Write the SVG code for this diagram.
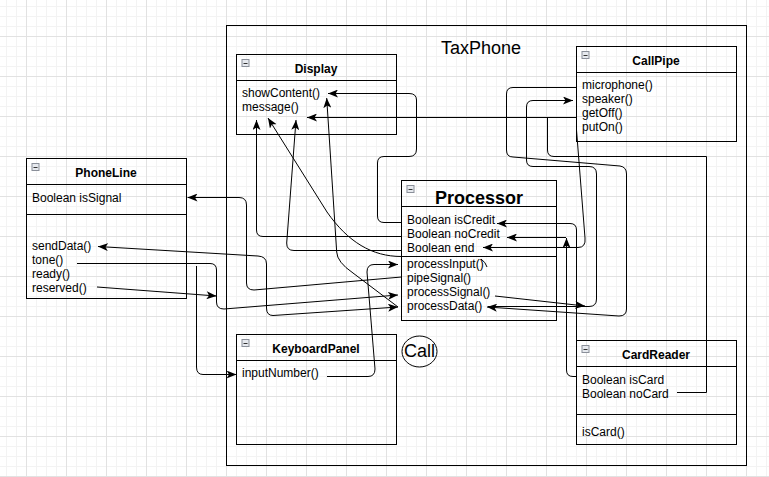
<svg xmlns="http://www.w3.org/2000/svg" width="769" height="477" viewBox="0 0 769 477">
<defs>
<pattern id="grid" width="40" height="40" patternUnits="userSpaceOnUse" x="26" y="36">
<path d="M10.5,0V40M20.5,0V40M30.5,0V40M0,10.5H40M0,20.5H40M0,30.5H40" stroke="#f3f3f3" stroke-width="1" fill="none"/>
<path d="M0.5,0V40M0,0.5H40" stroke="#e2e2e2" stroke-width="1" fill="none"/>
</pattern>
<marker id="a" viewBox="0 0 10 8" refX="10" refY="4" markerWidth="10" markerHeight="8" markerUnits="userSpaceOnUse" orient="auto-start-reverse">
<path d="M0,0 L10,4 L0,8 L2.5,4 Z" fill="#000"/>
</marker>
<g id="minus">
<rect x="0.5" y="0.5" width="7" height="7" fill="#e6e9ee" stroke="#8a8f99" stroke-width="1"/>
<path d="M2,4.5H6" stroke="#333" stroke-width="1"/>
</g>
</defs>
<style>
.box{fill:none;stroke:#000;stroke-width:1}
.t{font-family:"Liberation Sans",Arial,sans-serif;font-size:12px;fill:#000}
.h{font-weight:bold;text-anchor:middle}
.e{fill:none;stroke:#000;stroke-width:1}
.ar{marker-end:url(#a)}
</style>
<rect width="769" height="477" fill="#fff"/>
<rect width="769" height="477" fill="url(#grid)"/>

<g id="TaxPhone">
<rect class="box" x="226.5" y="25.5" width="520" height="440"/>
<text class="t" x="481" y="53.5" text-anchor="middle" style="font-size:18px">TaxPhone</text>
</g>

<g id="Display">
<rect class="box" x="236.5" y="54.5" width="160" height="80"/>
<path class="box" d="M236.5,80.5H396.5"/>
<use href="#minus" x="241.5" y="59"/>
<text class="t h" x="316" y="73">Display</text>
<text class="t" x="242" y="97">showContent()</text>
<text class="t" x="242" y="111">message()</text>
</g>

<g id="CallPipe">
<rect class="box" x="576.5" y="46.5" width="160" height="95"/>
<path class="box" d="M576.5,72.5H736.5"/>
<use href="#minus" x="581.5" y="51"/>
<text class="t h" x="656" y="65">CallPipe</text>
<text class="t" x="582" y="89">microphone()</text>
<text class="t" x="582" y="103">speaker()</text>
<text class="t" x="582" y="117">getOff()</text>
<text class="t" x="582" y="131">putOn()</text>
</g>

<g id="PhoneLine">
<rect class="box" x="26.5" y="158.5" width="160" height="140"/>
<path class="box" d="M26.5,184.5H186.5M26.5,214.5H186.5"/>
<use href="#minus" x="31.5" y="163"/>
<text class="t h" x="106" y="177">PhoneLine</text>
<text class="t" x="32" y="202">Boolean isSignal</text>
<text class="t" x="32" y="250">sendData()</text>
<text class="t" x="32" y="264">tone()</text>
<text class="t" x="32" y="278">ready()</text>
<text class="t" x="32" y="292">reserved()</text>
</g>

<g id="Processor">
<rect class="box" x="401.5" y="180.5" width="155" height="140"/>
<path class="box" d="M401.5,206.5H556.5M401.5,256.5H556.5"/>
<use href="#minus" x="406.5" y="185"/>
<text class="t h" x="479" y="204" style="font-size:18px">Processor</text>
<text class="t" x="407" y="224">Boolean isCredit</text>
<text class="t" x="407" y="238">Boolean noCredit</text>
<text class="t" x="407" y="252">Boolean end</text>
<text class="t" x="407" y="268">processInput()</text>
<text class="t" x="407" y="282">pipeSignal()</text>
<text class="t" x="407" y="296">processSignal()</text>
<text class="t" x="407" y="310">processData()</text>
</g>

<g id="KeyboardPanel">
<rect class="box" x="236.5" y="334.5" width="160" height="110"/>
<path class="box" d="M236.5,360.5H396.5"/>
<use href="#minus" x="241.5" y="339"/>
<text class="t h" x="316" y="353">KeyboardPanel</text>
<text class="t" x="242" y="377">inputNumber()</text>
</g>

<g id="Call">
<ellipse class="box" cx="419.5" cy="351.5" rx="17.5" ry="15.5"/>
<text class="t" x="419.5" y="357" text-anchor="middle" style="font-size:18px">Call</text>
</g>

<g id="CardReader">
<rect class="box" x="576.5" y="340.5" width="160" height="104"/>
<path class="box" d="M576.5,366.5H736.5M576.5,414.5H736.5"/>
<use href="#minus" x="581.5" y="345"/>
<text class="t h" x="656" y="359">CardReader</text>
<text class="t" x="582" y="384">Boolean isCard</text>
<text class="t" x="582" y="398">Boolean noCard</text>
<text class="t" x="582" y="436">isCard()</text>
</g>

<g id="connectors">
<path class="e ar" d="M401.5,222.5H384Q377.5,222.5 377.5,216V163Q377.5,156.5 384,156.5H409Q416.5,156.5 416.5,149V100Q416.5,93.5 409,93.5H328"/>
<path class="e ar" d="M576.5,117.5H307"/>
<path class="e" d="M677,392.5H706.5V156.5H554Q547.5,156.5 547.5,150V117.5"/>
<path class="e ar" d="M576.5,87.5H513Q506.5,87.5 506.5,94V150Q506.5,157 513,157L620,166Q626.5,167 626.5,174V309Q626.5,316 619,316L487,307"/>
<path class="e ar" d="M488,306.5H589Q596.5,306.5 596.5,299V174Q596.5,166.5 589,166.5H533Q526.5,166.5 526.5,160V107Q526.5,100.5 533,100.5H573"/>
<path class="e ar" d="M495,296L585,306"/>
<path class="e ar" d="M576.5,130L585,238Q586,247.5 578,247.5H483"/>
<path class="e ar" d="M576.5,340V230Q576.5,223.5 570,223.5H497"/>
<path class="e ar" d="M576.5,376.5H573Q566.5,376.5 566.5,370V238"/>
<path class="e ar" d="M566,237.5H507"/>
<path class="e ar" d="M401.5,236.5H263Q256.5,236.5 256.5,230V120"/>
<path class="e ar" d="M401.5,250.5H294Q286.5,250.5 286.7,243L296,120"/>
<path class="e ar" d="M401.5,256.5C372,256.5 348,242 327,212L268,118"/>
<path class="e ar" d="M398,307L353,273Q337,262 336.7,252L326.7,98"/>
<path class="e ar" d="M401.5,277L254,290Q246.5,290 246.5,283V205Q246.5,197.5 239,197.5H187.5"/>
<path class="e" marker-start="url(#a)" marker-end="url(#a)" d="M98,246.5L258,256Q266.5,256.5 266.5,264V308Q266.5,315.5 273,315.5L398,307"/>
<path class="e ar" d="M77,263.5H210Q216.5,263.5 216.5,270V302Q216.5,309 224,309L398,295"/>
<path class="e ar" d="M196.5,266V367Q196.5,374.5 203,374.5H236.5"/>
<path class="e ar" d="M97,287L216.5,296"/>
<path class="e ar" d="M327,376.5H368Q375,376.5 375,369L367,272Q367,264.5 374,264.5H398"/>
<path class="e" d="M481,259Q485.5,262 487,267"/>
</g>
</svg>
